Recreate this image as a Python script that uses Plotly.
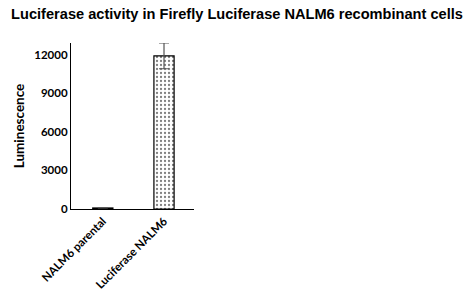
import plotly.graph_objects as go

categories = ["NALM6 parental", "Luciferase NALM6"]
values = [80, 11900]
errors = [0, 1000]
y_ticks = [0, 3000, 6000, 9000, 12000]
y_tick_labels = ["0", "3000", "6000", "9000", "12000"]
title = "Luciferase activity in Firefly Luciferase NALM6 recombinant cells"

fig = go.Figure()
fig.add_trace(go.Bar(
    x=[0, 1], y=values, width=0.33,
    marker=dict(color="white", line=dict(color="black", width=1.2),
                pattern=dict(shape=".", size=4, solidity=0.25, fgcolor="black", bgcolor="white")),
    error_y=dict(type="data", array=errors, visible=True, color="#555555", thickness=1.2, width=5),
))
fig.update_layout(
    width=474, height=303, margin=dict(l=71, r=280, t=43, b=94),
    plot_bgcolor="white", paper_bgcolor="white", showlegend=False,
    title=dict(text="<b>" + title + "</b>", x=0.5, xanchor="center", y=0.955, yanchor="middle",
               font=dict(family="Arial, Liberation Sans", size=14.6, color="black")),
    xaxis=dict(range=[-0.52, 1.49], tickmode="array", tickvals=[0, 1],
               ticktext=["<b>" + c + "</b>" for c in categories], tickangle=-45,
               showline=True, linecolor="black", linewidth=1.2, ticks="", showgrid=False,
               tickfont=dict(family="Lato, Open Sans", size=11.5, color="black")),
    yaxis=dict(range=[0, 12900], tickmode="array", tickvals=y_ticks,
               ticktext=["<b>" + t + "</b>" for t in y_tick_labels],
               showline=True, linecolor="black", linewidth=1.2, ticks="", showgrid=False,
               zeroline=False,
               tickfont=dict(family="Lato, Open Sans", size=11.5, color="black"),
               title=dict(text="<b>Luminescence</b>", standoff=6,
                          font=dict(family="Lato, Open Sans", size=13.5, color="black"))),
)
fig.write_html("out.html")
